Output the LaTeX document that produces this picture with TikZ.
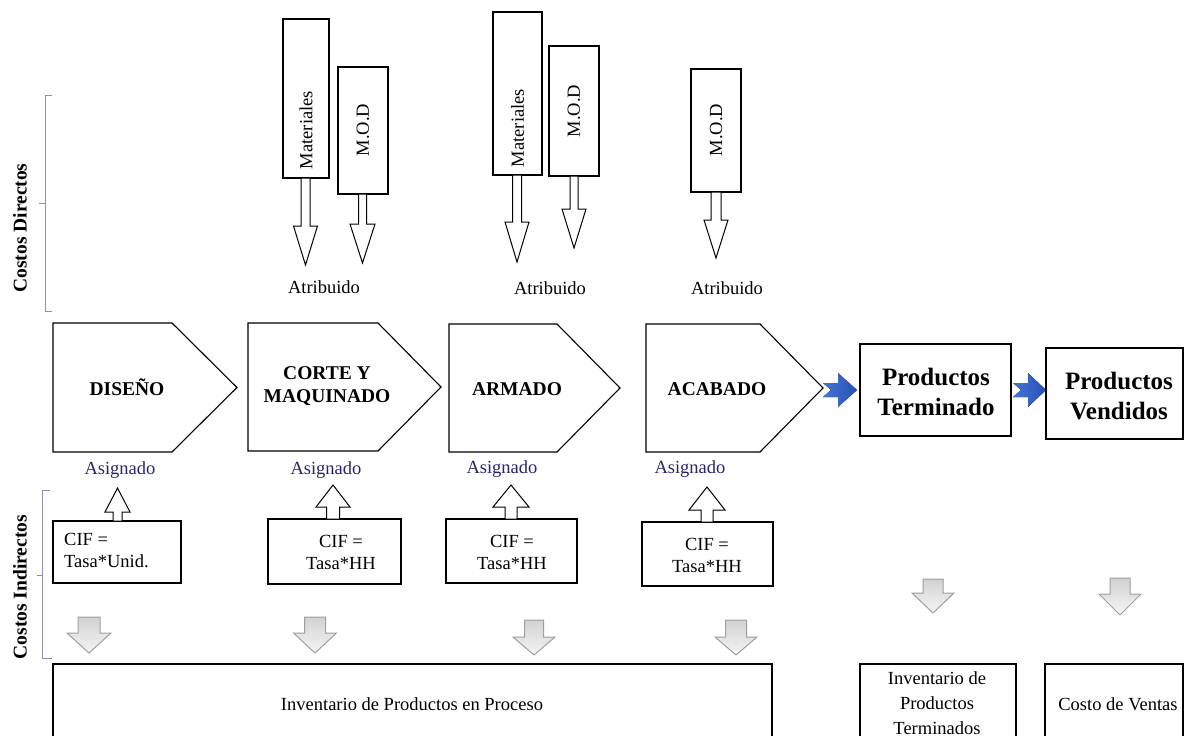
\documentclass[tikz,border=0pt]{standalone}
\usepackage{fontspec}
\setmainfont{Liberation Serif}
\usetikzlibrary{shadings}
\definecolor{asig}{RGB}{38,38,110}
\definecolor{brk}{RGB}{140,140,172}
\definecolor{blueA}{RGB}{70,115,215}
\definecolor{blueB}{RGB}{40,80,180}
\newcommand{\blockar}[7][]{%
  \draw[#1] (#2-#6,#3) -- (#2+#6,#3) -- (#2+#6,#4) -- (#2+#7,#4) -- (#2,#5) -- (#2-#7,#4) -- (#2-#6,#4) -- cycle;}
\tikzset{
  box/.style={draw=black,line width=1.1pt,fill=white},
  proc/.style={draw=black,line width=1.1pt,fill=white,line join=miter},
  whitear/.style={draw=black,line width=1pt,fill=white,line join=miter},
  grayar/.style={draw=gray!75,line width=1pt,top color=gray!35,bottom color=gray!8,line join=miter},
  bluear/.style={draw=none,left color=blueA,right color=blueB},
  bracket/.style={draw=brk,line width=1pt},
  rtxt/.style={font=\fontsize{18.5}{22}\selectfont,inner sep=0pt},
  vtxt/.style={font=\fontsize{18.5}{22}\selectfont,inner sep=0pt,rotate=90},
  ptxt/.style={font=\fontsize{19.5}{23}\selectfont\bfseries,inner sep=0pt,align=center},
  btxt/.style={font=\fontsize{25}{30}\selectfont\bfseries,inner sep=0pt,align=center},
  sidetxt/.style={font=\fontsize{19.5}{22}\selectfont\bfseries,inner sep=0pt,rotate=90},
  asg/.style={font=\fontsize{18.5}{22}\selectfont,inner sep=0pt,text=asig},
}
\begin{document}
\begin{tikzpicture}[x=1pt,y=-1pt]
\useasboundingbox (0,0) rectangle (1184,736);
\clip (0,0) rectangle (1184,736);
\fill[white] (0,0) rectangle (1184,736);

% side brackets
\draw[bracket] (52,95) -- (45,95) -- (45,311) -- (52,311);
\draw[bracket] (45,203) -- (39,203);
\node[sidetxt] (cd) at (20,228) {Costos Directos};
\draw[bracket] (50,490) -- (42,490) -- (42,658) -- (52,658);
\draw[bracket] (42,575) -- (37,575);
\node[sidetxt] (ci) at (20,587) {Costos Indirectos};

% top boxes
\draw[box] (283,19) rectangle (329,178);
\node[vtxt] (mat1) at (306,130) {Materiales};
\draw[box] (338,67) rectangle (388,194);
\node[vtxt] (mod1) at (363,130) {M.O.D};
\draw[box] (493,12) rectangle (542,175);
\node[vtxt] (mat2) at (517.5,128) {Materiales};
\draw[box] (549,46) rectangle (599,176);
\node[vtxt] (mod2) at (574,111) {M.O.D};
\draw[box] (691,69) rectangle (741,192);
\node[vtxt] (mod3) at (716,130) {M.O.D};

% down white arrows
\blockar[whitear]{305.5}{178}{226}{265}{4.5}{12}
\blockar[whitear]{362.5}{194}{224}{263}{4}{12.5}
\blockar[whitear]{517}{175}{222}{262}{4.5}{12}
\blockar[whitear]{574}{176}{209}{248}{4}{12}
\blockar[whitear]{716}{192}{220}{258}{5}{12}

\node[rtxt] (at1) at (324,287) {Atribuido};
\node[rtxt] (at2) at (550,288) {Atribuido};
\node[rtxt] (at3) at (727,288) {Atribuido};

% process shapes
\draw[proc] (53,323) -- (172,323) -- (237,387.5) -- (172,452) -- (53,452) -- cycle;
\node[ptxt] (dis) at (127,387) {DISEÑO};
\draw[proc] (248,323) -- (378,323) -- (441,387) -- (378,451) -- (248,451) -- cycle;
\node[ptxt] (cor) at (327,386) {CORTE Y\\MAQUINADO};
\draw[proc] (449,324) -- (557,324) -- (620,388) -- (557,452) -- (449,452) -- cycle;
\node[ptxt] (arm) at (517,389) {ARMADO};
\draw[proc] (646,324) -- (760,324) -- (823,388) -- (760,452) -- (646,452) -- cycle;
\node[ptxt] (aca) at (717,389) {ACABADO};

% blue arrows
\fill[bluear] (823,383) -- (838,383) -- (838,373) -- (857,390) -- (838,407) -- (838,397) -- (823,397) -- (831,390) -- cycle;
\fill[bluear] (1013,383) -- (1028,383) -- (1028,373) -- (1046,390) -- (1028,407) -- (1028,397) -- (1013,397) -- (1021,390) -- cycle;

% product boxes
\draw[box] (860,344) rectangle (1011,436);
\node[btxt] (pt) at (936,392) {Productos\\Terminado};
\draw[box] (1046,348) rectangle (1183,439);
\node[btxt] (pv) at (1119,396) {Productos\\Vendidos};

% asignado
\node[asg] (as1) at (120,470) {Asignado};
\node[asg] (as2) at (326,470) {Asignado};
\node[asg] (as3) at (502,469) {Asignado};
\node[asg] (as4) at (690,469) {Asignado};

% CIF boxes
\draw[box] (53,521) rectangle (181,583);
\node[rtxt,align=left,anchor=west] (cif1) at (64,551) {CIF =\\Tasa*Unid.};
\draw[box] (268,519) rectangle (401,584);
\node[rtxt,align=center] (cif2) at (341,552) {CIF =\\Tasa*HH};
\draw[box] (446,519) rectangle (577,583);
\node[rtxt,align=center] (cif3) at (512,552) {CIF =\\Tasa*HH};
\draw[box] (642,522) rectangle (773,586);
\node[rtxt,align=center] (cif4) at (707,555) {CIF =\\Tasa*HH};

% up white arrows
\blockar[whitear]{117.5}{521}{512}{488}{4.5}{12.5}
\blockar[whitear]{333}{519}{507}{485}{6.5}{17}
\blockar[whitear]{511}{519}{507}{485}{6}{18}
\blockar[whitear]{707}{522}{510}{487}{6}{18}

% gray arrows
\blockar[grayar]{89}{617}{633}{653}{11}{22}
\blockar[grayar]{315}{617}{633}{653}{10.5}{21.5}
\blockar[grayar]{534}{620}{637}{655}{9.5}{21}
\blockar[grayar]{736}{620}{637}{655}{10.5}{21}
\blockar[grayar]{933}{579}{593}{613}{10}{21}
\blockar[grayar]{1120}{578}{594}{615}{10}{21}

% bottom boxes
\draw[box] (53,664) rectangle (772,760);
\node[rtxt] (ipp) at (412,704) {Inventario de Productos en Proceso};
\draw[box] (860,664) rectangle (1016,760);
\node[rtxt,align=center,font=\fontsize{18.5}{25}\selectfont] (ipt) at (937,703) {Inventario de\\Productos\\Terminados};
\draw[box] (1045,664) rectangle (1183,760);
\node[rtxt] (cv) at (1118,704) {Costo de Ventas};
\end{tikzpicture}
\end{document}
